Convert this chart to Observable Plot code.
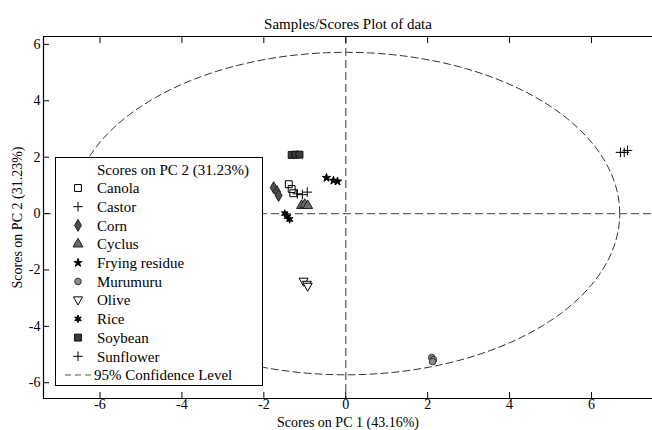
<!DOCTYPE html>
<html><head><meta charset="utf-8">
<script src="https://cdn.jsdelivr.net/npm/d3@7"></script>
<script src="https://cdn.jsdelivr.net/npm/@observablehq/plot@0.6"></script>
<style>
body{margin:0;background:#fff;}
#wrap{position:relative;width:652px;height:430px;font-family:"Liberation Serif","Times New Roman",serif;}
#legend{position:absolute;left:55px;top:157px;}
</style></head><body><div id="wrap"></div>
<script>
// ---- data ----
const classes = ["Canola","Castor","Corn","Cyclus","Frying residue","Murumuru","Olive","Rice","Soybean","Sunflower"];
const pc1 = [
  [-1.39, -1.32, -1.28],   // Canola
  [6.71, 6.80, 6.88],      // Castor
  [-1.76, -1.68, -1.64],   // Corn
  [-1.08, -1.00, -0.93],   // Cyclus
  [-0.47, -0.30, -0.20],   // Frying residue
  [2.10, 2.14, 2.12],      // Murumuru
  [-1.03, -0.95, -0.93],   // Olive
  [-1.49, -1.42, -1.37],   // Rice
  [-1.32, -1.23, -1.13],   // Soybean
  [-1.18, -1.06, -0.94]    // Sunflower
];
const pc2 = [
  [1.04, 0.87, 0.72],
  [2.17, 2.17, 2.24],
  [0.92, 0.78, 0.64],
  [0.28, 0.32, 0.28],
  [1.27, 1.17, 1.14],
  [-5.11, -5.18, -5.25],
  [-2.41, -2.52, -2.59],
  [0.00, -0.11, -0.21],
  [2.08, 2.09, 2.09],
  [0.70, 0.67, 0.76]
];
const xTicks = [-6, -4, -2, 0, 2, 4, 6];
const yTicks = [-6, -4, -2, 0, 2, 4, 6];
const chartTitle = "Samples/Scores Plot of data";
const xLabel = "Scores on PC 1 (43.16%)";
const yLabel = "Scores on PC 2 (31.23%)";
const legendTitle = "Scores on PC 2 (31.23%)";
const confLabel = "95% Confidence Level";
const ellipseSemiAxes = [6.69, 5.72];   // 95% confidence ellipse (PC1, PC2)
const xDomain = [-7.38, 7.49];
const yDomain = [-6.56, 6.28];

// ---- custom marker shapes ----
const downTriangle = {draw(ctx, size) {
  const r = Math.sqrt(size / Math.PI) * 1.25;
  ctx.moveTo(0, r); ctx.lineTo(r * 0.95, -r * 0.7); ctx.lineTo(-r * 0.95, -r * 0.7); ctx.closePath();
}};
const hexagram = {draw(ctx, size) {
  const R = Math.sqrt(size / Math.PI) * 1.35;
  for (let i = 0; i < 12; i++) {
    const a = i * Math.PI / 6 - Math.PI / 2, rr = i % 2 ? R * 0.45 : R;
    const px = rr * Math.cos(a), py = rr * Math.sin(a);
    i ? ctx.lineTo(px, py) : ctx.moveTo(px, py);
  }
  ctx.closePath();
}};
const styles = {
  "Canola":        {symbol: "square",   fill: "none",    stroke: "#000", r: 3.9},
  "Castor":        {symbol: "plus",     fill: "none",    stroke: "#000", r: 3.2},
  "Corn":          {symbol: "diamond",  fill: "#4e4e4e", stroke: "#222", r: 3.6},
  "Cyclus":        {symbol: "triangle", fill: "#6a6a6a", stroke: "#222", r: 3.7},
  "Frying residue":{symbol: "star",     fill: "#000",    stroke: "#000", r: 2.6},
  "Murumuru":      {symbol: "circle",   fill: "#8a8a8a", stroke: "#333", r: 3.3},
  "Olive":         {symbol: downTriangle, fill: "#fff",  stroke: "#000", r: 3.8},
  "Rice":          {symbol: hexagram,   fill: "#000",    stroke: "#000", r: 2.8},
  "Soybean":       {symbol: "square",   fill: "#3a3a3a", stroke: "#111", r: 3.9},
  "Sunflower":     {symbol: "plus",     fill: "none",    stroke: "#000", r: 3.2}
};

const ellipse = d3.range(0, 361, 2).map(t => ({
  x: ellipseSemiAxes[0] * Math.cos(t * Math.PI / 180),
  y: ellipseSemiAxes[1] * Math.sin(t * Math.PI / 180)
}));

const dotMarks = classes.map((c, i) => {
  const rows = pc1[i].map((v, j) => ({pc1: v, pc2: pc2[i][j]}));
  const s = styles[c];
  return Plot.dot(rows, {x: "pc1", y: "pc2", symbol: s.symbol, fill: s.fill, stroke: s.stroke, r: s.r, strokeWidth: 1});
});

const fmt = d => String(d);
const chart = Plot.plot({
  width: 652, height: 430,
  marginLeft: 43, marginRight: 0, marginTop: 36, marginBottom: 32,
  style: {fontFamily: '"Liberation Serif", "Times New Roman", serif', fontSize: "15px", color: "#000", background: "#fff"},
  x: {domain: xDomain},
  y: {domain: yDomain},
  marks: [
    Plot.line(ellipse, {x: "x", y: "y", stroke: "#333", strokeWidth: 1, strokeDasharray: "7,4"}),
    Plot.ruleX([0], {stroke: "#666", strokeWidth: 1.3, strokeDasharray: "8,4"}),
    Plot.ruleY([0], {stroke: "#666", strokeWidth: 1.3, strokeDasharray: "8,4"}),
    ...dotMarks,
    Plot.ruleY(yDomain, {stroke: "#000", strokeWidth: 1.2}),
    Plot.ruleX([xDomain[0]], {stroke: "#000", strokeWidth: 1.2}),
    Plot.axisX(xTicks, {anchor: "bottom", tickSize: -6, tickPadding: 7, fontSize: 14, tickFormat: fmt, label: xLabel, labelAnchor: "center", labelOffset: 28, labelArrow: "none"}),
    Plot.axisX(xTicks, {anchor: "top", tickSize: -6, tickFormat: () => "", label: null}),
    Plot.axisY(yTicks, {anchor: "left", tickSize: -6, tickPadding: 9, fontSize: 14, tickFormat: fmt, label: yLabel, labelAnchor: "center", labelOffset: 31, labelArrow: "none"}),
    Plot.text([chartTitle], {frameAnchor: "top", dy: -18, fontSize: 15})
  ]
});
const wrap = document.getElementById("wrap");
wrap.appendChild(chart);

// ---- legend overlay ----
const lw = 208, lh = 229, rowH = 18.7, row0 = 12.3;
const leg = d3.select(wrap).append("svg").attr("id", "legend").attr("width", lw).attr("height", lh)
  .style("font-family", '"Liberation Serif", "Times New Roman", serif').style("font-size", "15px");
leg.append("rect").attr("x", 0.5).attr("y", 0.5).attr("width", lw - 1).attr("height", lh - 1).attr("fill", "#fff").attr("stroke", "#000");
leg.append("text").attr("x", 42).attr("y", row0).attr("dy", "0.35em").text(legendTitle);
const symMap = {square: d3.symbolSquare, plus: d3.symbolPlus, diamond: d3.symbolDiamond, triangle: d3.symbolTriangle, star: d3.symbolStar, circle: d3.symbolCircle};
classes.forEach((c, i) => {
  const s = styles[c], y = row0 + rowH * (i + 1);
  const type = typeof s.symbol === "string" ? symMap[s.symbol] : s.symbol;
  leg.append("path").attr("transform", `translate(23,${y})`)
    .attr("d", d3.symbol(type, Math.PI * s.r * s.r)())
    .attr("fill", s.fill).attr("stroke", s.stroke);
  leg.append("text").attr("x", 42).attr("y", y).attr("dy", "0.35em").text(c);
});
const yc = row0 + rowH * (classes.length + 1);
leg.append("line").attr("x1", 10).attr("x2", 38).attr("y1", yc).attr("y2", yc).attr("stroke", "#555").attr("stroke-dasharray", "6,4");
leg.append("text").attr("x", 39).attr("y", yc).attr("dy", "0.35em").text(confLabel);
</script></body></html>
